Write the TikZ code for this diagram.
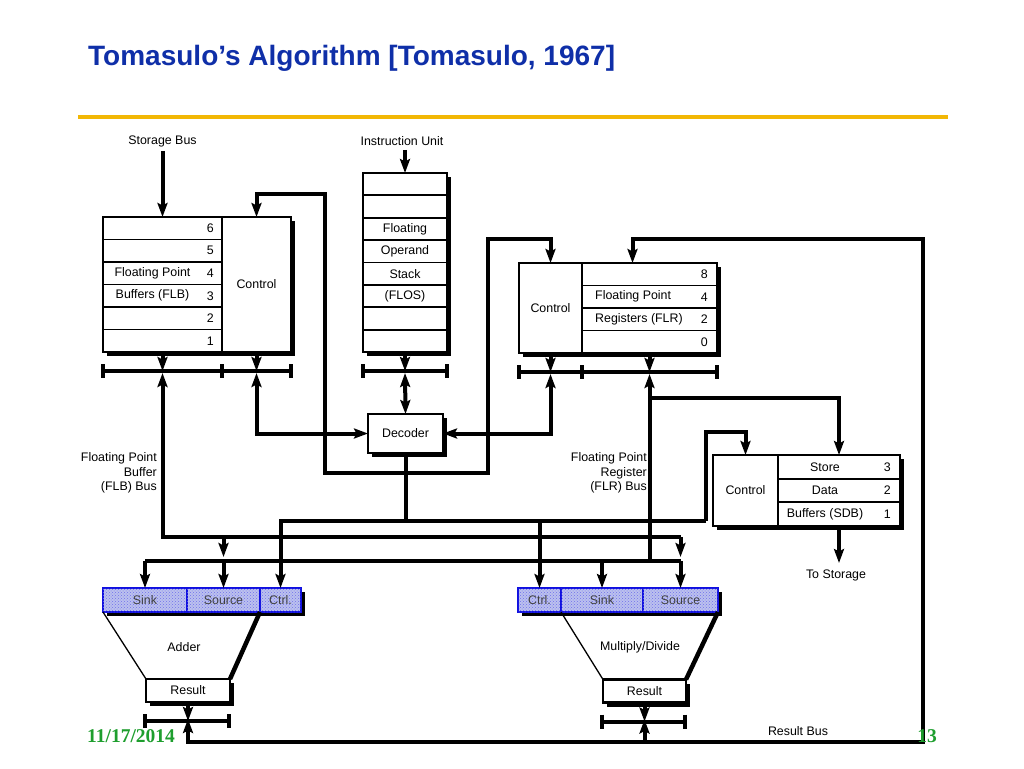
\documentclass[tikz,border=0pt]{standalone}
\usepackage{fontspec}
\setmainfont{Liberation Sans}
\newfontfamily\footfont{Liberation Serif}
\usetikzlibrary{arrows.meta,calc,positioning,shadows,patterns}
\definecolor{tomTitle}{HTML}{0F2FA8}
\definecolor{tomRule}{HTML}{F2B705}
\definecolor{tomFoot}{HTML}{1E9E2E}
\definecolor{tomRS}{HTML}{1010E0}
\definecolor{tomRSFill}{HTML}{BCC1EE}
\tikzset{
  bus/.style={line width=4pt},
  bus out/.style={bus, -{Stealth[length=14pt,width=10pt,inset=2.5pt]}},
  bus in/.style={bus, {Stealth[length=14pt,width=10pt,inset=2.5pt]}-},
  bus both/.style={bus, {Stealth[length=14pt,width=10pt,inset=2.5pt]}-{Stealth[length=14pt,width=10pt,inset=2.5pt]}},
  bus bar/.style={line width=4pt},
  bar tick/.style={line width=3.2pt},
  unit box/.style={draw, line width=2.6pt, fill=white, inner sep=0pt, outer sep=0pt,
    drop shadow={shadow xshift=4pt, shadow yshift=-4pt, fill=black, opacity=1}},
  row line/.style={line width=1.8pt},
  reg num/.style={anchor=east, inner sep=0pt},
  row text/.style={inner sep=0pt},
  station/.style={draw=tomRS, line width=2.2pt, fill=tomRSFill, inner sep=0pt,
    outer sep=0pt, minimum height=24pt, text=black!75,
    drop shadow={shadow xshift=4pt, shadow yshift=-4pt, fill=black, opacity=1},
    postaction={pattern=crosshatch dots, pattern color=tomRS!60}},
  result box/.style={unit box, minimum height=23pt},
  note/.style={inner sep=0pt}
}

\begin{document}
\begin{tikzpicture}[x=1pt, y=-1pt, font=\fontsize{12.4}{14.5}\selectfont]
  \useasboundingbox (0,0) rectangle (1024,768);

  % title and rule
  \node[anchor=base west, inner sep=0pt, text=tomTitle,
    font=\fontsize{28}{32}\selectfont\bfseries] (title) at (88,65)
    {Tomasulo’s Algorithm [Tomasulo, 1967]};
  \draw[line width=4pt, tomRule] (78,117) -- (948,117);

  % floating point buffers
  \node[unit box, minimum width=119pt, minimum height=135pt] (flb) at (162.5,284.5) {};
  \node[unit box, minimum width=69pt, minimum height=135pt, right=0pt of flb] (flbctl) {Control};
  \foreach \i in {1,...,5}
    \draw[row line] ($(flb.north west)!\i/6!(flb.south west)$) -- ($(flb.north east)!\i/6!(flb.south east)$);
  \foreach \n [count=\i] in {6,5,4,3,2,1}
    \node[reg num] (flbn\i) at ($(flb.north east)!{(\i-0.5)/6}!(flb.south east)+(-8,0)$) {\n};
  \node[row text] (flbt1) at ($(flbn3 -| flb.center)+(-10,0)$) {Floating Point};
  \node[row text] (flbt2) at ($(flbn4 -| flb.center)+(-10,0)$) {Buffers (FLB)};

  % floating operand stack
  \node[unit box, minimum width=84pt, minimum height=179pt] (flos) at (405,262.5) {};
  \foreach \i in {1,...,7}
    \draw[row line] ($(flos.north west)!\i/8!(flos.south west)$) -- ($(flos.north east)!\i/8!(flos.south east)$);
  \foreach \t [count=\i from 3] in {Floating,Operand,Stack,{(FLOS)}}
    \node[row text] (flost\i) at ($(flos.north)!{(\i-0.5)/8}!(flos.south)$) {\t};

  % floating point registers
  \node[unit box, minimum width=63pt, minimum height=90pt] (flrctl) at (550.5,308) {Control};
  \node[unit box, minimum width=135pt, minimum height=90pt, right=0pt of flrctl] (flr) {};
  \foreach \i in {1,...,3}
    \draw[row line] ($(flr.north west)!\i/4!(flr.south west)$) -- ($(flr.north east)!\i/4!(flr.south east)$);
  \foreach \n [count=\i] in {8,4,2,0}
    \node[reg num] (flrn\i) at ($(flr.north east)!{(\i-0.5)/4}!(flr.south east)+(-9,0)$) {\n};
  \node[row text, anchor=west] (flrt1) at ($(flrn2 -| flr.west)+(13,0)$) {Floating Point};
  \node[row text, anchor=west] (flrt2) at ($(flrn3 -| flr.west)+(13,0)$) {Registers (FLR)};

  % store data buffers
  \node[unit box, minimum width=65pt, minimum height=71pt] (sdbctl) at (745.5,490.5) {Control};
  \node[unit box, minimum width=122pt, minimum height=71pt, right=0pt of sdbctl] (sdb) {};
  \foreach \i in {1,2}
    \draw[row line] ($(sdb.north west)!\i/3!(sdb.south west)$) -- ($(sdb.north east)!\i/3!(sdb.south east)$);
  \foreach \n/\t [count=\i] in {3/Store,2/Data,1/Buffers (SDB)} {
    \node[reg num] (sdbn\i) at ($(sdb.north east)!{(\i-0.5)/3}!(sdb.south east)+(-9,0)$) {\n};
    \node[row text] (sdbt\i) at ($(sdbn\i -| sdb.center)+(-14,0)$) {\t};
  }

  % decoder
  \node[unit box, minimum width=75pt, minimum height=39pt] (dec) at (405.5,433.5) {Decoder};

  % reservation stations and units
  \node[station, minimum width=84pt] (addsink) at (145,600) {Sink};
  \node[station, minimum width=73pt, right=0pt of addsink] (addsrc) {Source};
  \node[station, minimum width=41pt, right=0pt of addsrc] (addctl) {Ctrl.};
  \node[station, minimum width=43pt] (mulctl) at (539.5,600) {Ctrl.};
  \node[station, minimum width=82pt, right=0pt of mulctl] (mulsink) {Sink};
  \node[station, minimum width=75pt, right=0pt of mulsink] (mulsrc) {Source};
  \node[result box, minimum width=84pt] (addres) at (188,690.5) {Result};
  \node[result box, minimum width=83pt] (mulres) at (644.5,691) {Result};
  \draw[line width=1.3pt] (addsink.south west) -- (addres.north west);
  \draw[line width=4.5pt] (addctl.south west) -- (addres.north east);
  \draw[line width=1.3pt] (mulsink.south west) -- (mulres.north west);
  \draw[line width=4.5pt] (mulsrc.south east) -- (mulres.north east);
  \node[note] (addlbl) at (184,647) {Adder};
  \node[note] (mullbl) at (640,647) {Multiply/Divide};

  % bus bars
  \draw[bus bar] ($(flb.south west)+(0,19)$) coordinate (flbbar) -- ($(flbctl.south east)+(0,19)$);
  \foreach \p in {flb.south west,flb.south east,flbctl.south east}
    \draw[bar tick] ($(\p)+(0,12)$) -- ($(\p)+(0,26)$);
  \draw[bus bar] ($(flos.south west)+(0,19)$) coordinate (flosbar) -- ($(flos.south east)+(0,19)$);
  \foreach \p in {flos.south west,flos.south east}
    \draw[bar tick] ($(\p)+(0,12)$) -- ($(\p)+(0,26)$);
  \draw[bus bar] ($(flrctl.south west)+(0,19)$) coordinate (flrbar) -- ($(flr.south east)+(0,19)$);
  \foreach \p in {flrctl.south west,flrctl.south east,flr.south east}
    \draw[bar tick] ($(\p)+(0,12)$) -- ($(\p)+(0,26)$);
  \draw[bus bar] ($(addres.south west)+(-1,19)$) coordinate (addbar) -- ($(addres.south east)+(-2,19)$);
  \foreach \p in {addres.south west,addres.south east}
    \draw[bar tick] ($(\p)+(-1,12)$) -- ($(\p)+(-1,26)$);
  \draw[bus bar] ($(mulres.south west)+(-2,19)$) coordinate (mulbar) -- ($(mulres.south east)+(-1,19)$);
  \foreach \p in {mulres.south west,mulres.south east}
    \draw[bar tick] ($(\p)+(-1,12)$) -- ($(\p)+(-1,26)$);

  % outside labels
  \node[note] (sbus) at (162.5,141) {Storage Bus};
  \node[note] (iunit) at (402,141) {Instruction Unit};
  \node[note, align=right, anchor=east] (flblbl) at (157,473) {Floating Point\\Buffer\\(FLB) Bus};
  \node[note, align=right, anchor=east] (flrlbl) at (647,473) {Floating Point\\Register\\(FLR) Bus};
  \node[note] (tostore) at (836,575) {To Storage};
  \node[note] (resbuslbl) at (798,731) {Result Bus};

  % bus turning points
  \coordinate (loopA) at (325,194);
  \coordinate (loopB) at (488,473);
  \coordinate (ctlbus) at (706,521);
  \coordinate (flbbus) at (162.5,537);
  \coordinate (flrbus) at (145,561);
  \coordinate (resbus) at (923,742);

  % connections
  \draw[bus out] ([yshift=-4pt]sbus.south) -- (flb.north);
  \draw[bus out] ([yshift=-4pt]iunit.south -| flos.north) -- (flos.north);
  \draw[bus out] (flb.south) -- (flb.south |- flbbar);
  \draw[bus out] (flbctl.south) -- (flbctl.south |- flbbar);
  \draw[bus out] (flos.south) -- (flos.south |- flosbar);
  \draw[bus out] (flrctl.south) -- (flrctl.south |- flrbar);
  \draw[bus out] (flr.south) -- (flr.south |- flrbar);
  \draw[bus both] ([yshift=-2pt]flos.south |- flosbar) -- (dec.north);
  \draw[bus both] ([yshift=-2pt]flbctl.south |- flbbar) |- (dec.west);
  \draw[bus both] ([yshift=-2pt]flrctl.south |- flrbar) |- (dec.east);
  \draw[bus both] (flbctl.north) |- (loopA) |- (loopB) |- ($(flrctl.north)+(0,-24)$) -- (flrctl.north);
  \draw[bus] (dec.south) -- (dec.south |- ctlbus);
  \draw[bus out] (ctlbus) -- (ctlbus -| addctl.north) -- (addctl.north);
  \draw[bus out] (ctlbus -| mulctl.north) -- (mulctl.north);
  \draw[bus out] (ctlbus) |- ($(sdbctl.north)+(0,-23)$) -- (sdbctl.north);
  \draw[bus in] ([yshift=-2pt]flb.south |- flbbar) -- (flbbus) -- (flbbus -| mulsrc.north);
  \draw[bus out] (flbbus -| addsrc.north) -- ++(0,20);
  \draw[bus out] (flbbus -| mulsrc.north) -- ++(0,20);
  \draw[bus in] ([yshift=-2pt]flr.south |- flrbar) -- (flr.south |- flrbus);
  \draw[bus out] ($(flr.south)+(0,45)$) -| (sdb.north);
  \draw[bus] (flrbus) -- (flrbus -| mulsrc.north);
  \foreach \s in {addsink,addsrc,mulsink,mulsrc}
    \draw[bus out] (flrbus -| \s.north) -- (\s.north);
  \draw[bus out] (sdb.south) -- ($(sdb.south)+(0,37)$);
  \draw[bus out] (addres.south) -- (addres.south |- addbar);
  \draw[bus out] (mulres.south) -- (mulres.south |- mulbar);
  \draw[bus both] ([yshift=2pt]addres.south |- addbar) |- (resbus) |- ($(flr.north)+(-17,-24)$) -- ($(flr.north)+(-17,0)$);
  \draw[bus in] ([yshift=2pt]mulres.south |- mulbar) -- (mulres.south |- resbus);

  % footer
  \node[anchor=base west, inner sep=0pt, text=tomFoot,
    font=\footfont\fontsize{19.5}{22}\selectfont\bfseries] (date) at (87,742) {11/17/2014};
  \node[anchor=base east, inner sep=0pt, text=tomFoot,
    font=\footfont\fontsize{19.5}{22}\selectfont\bfseries] (pageno) at (937,742) {13};
\end{tikzpicture}
\end{document}
